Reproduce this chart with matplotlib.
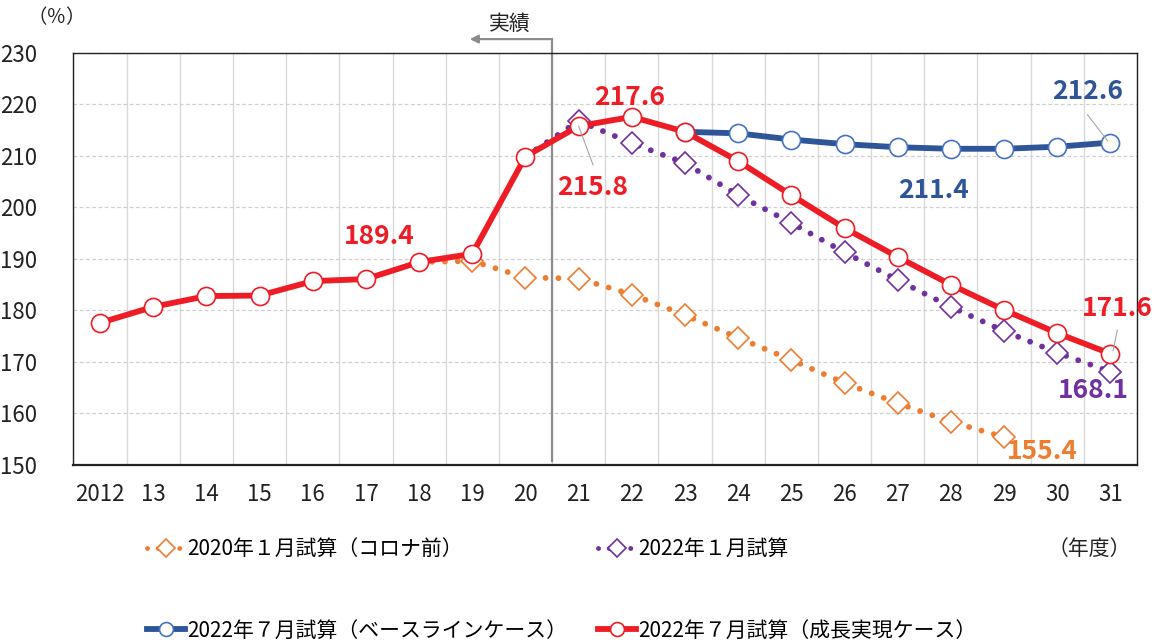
import matplotlib
matplotlib.use("Agg")
import matplotlib.pyplot as plt
from matplotlib.lines import Line2D
import numpy as np

plt.rcParams['font.family'] = ['Noto Sans CJK JP', 'DejaVu Sans']

# ---- data ----
years = ["2012", "13", "14", "15", "16", "17", "18", "19", "20", "21",
         "22", "23", "24", "25", "26", "27", "28", "29", "30", "31"]
growth = [177.6, 180.7, 182.8, 182.9, 185.7, 186.1, 189.4, 191.0, 209.9, 215.8,
          217.6, 214.7, 209.0, 202.4, 196.0, 190.4, 185.0, 180.1, 175.6, 171.6]
baseline_years = ["23", "24", "25", "26", "27", "28", "29", "30", "31"]
baseline = [214.7, 214.4, 213.2, 212.3, 211.7, 211.4, 211.4, 211.8, 212.6]
jan2022_years = ["20", "21", "22", "23", "24", "25", "26", "27", "28", "29", "30", "31"]
jan2022 = [209.9, 216.8, 212.5, 208.6, 202.4, 197.0, 191.3, 185.9, 180.7, 176.0, 171.8, 168.1]
jan2020_years = ["18", "19", "20", "21", "22", "23", "24", "25", "26", "27", "28", "29"]
jan2020 = [189.4, 189.6, 186.4, 186.2, 183.1, 179.1, 174.7, 170.4, 165.9, 162.0, 158.4, 155.4]
yticks = [150, 160, 170, 180, 190, 200, 210, 220, 230]

labels = ["2020年１月試算（コロナ前）", "2022年１月試算",
          "2022年７月試算（ベースラインケース）", "2022年７月試算（成長実現ケース）"]

C_RED = "#EE1C25"
C_BLUE = "#2E5597"
C_BLUE_EDGE = "#4472C4"
C_PURPLE = "#7030A0"
C_ORANGE = "#ED7D31"

idx = {y: i for i, y in enumerate(years)}
x_all = np.arange(len(years))
x_base = [idx[y] for y in baseline_years]
x_j22 = [idx[y] for y in jan2022_years]
x_j20 = [idx[y] for y in jan2020_years]

fig = plt.figure(figsize=(11.59, 6.44), dpi=100)
ax = fig.add_axes([0.0634, 0.278, 0.9176, 0.6397])

dot = (0, (0.01, 2.2))

l_or, = ax.plot(x_j20, jan2020, color=C_ORANGE, lw=4.2, linestyle=dot,
                dash_capstyle='round', marker='D', markersize=11, markevery=list(range(1, len(x_j20))),
                markerfacecolor='white', markeredgecolor=C_ORANGE, markeredgewidth=1.2, zorder=3)
l_pu, = ax.plot(x_j22, jan2022, color=C_PURPLE, lw=4.2, linestyle=dot,
                dash_capstyle='round', marker='D', markersize=11, markevery=list(range(1, len(x_j22))),
                markerfacecolor='white', markeredgecolor=C_PURPLE, markeredgewidth=1.2, zorder=4)
l_bl, = ax.plot(x_base, baseline, color=C_BLUE, lw=4.2, marker='o', markersize=13,
                markerfacecolor='white', markeredgecolor=C_BLUE_EDGE, markeredgewidth=1.2, zorder=5)
l_rd, = ax.plot(x_all, growth, color=C_RED, lw=4.2, marker='o', markersize=13,
                markerfacecolor='white', markeredgecolor=C_RED, markeredgewidth=1.2, zorder=6)

ax.set_xlim(-0.5, len(years) - 0.5)
ax.set_ylim(150, 230)
ax.set_yticks(yticks)
ax.set_xticks(x_all)
ax.set_xticklabels(years)
ax.set_xticks(np.arange(-0.5, len(years), 1.0), minor=True)
ax.tick_params(axis='both', which='both', length=0, labelsize=16, colors='#222222')
ax.tick_params(axis='y', pad=26)
ax.tick_params(axis='x', pad=13)
ax.grid(axis='y', which='major', color='#D0D0D0', linestyle=(0, (3, 2)), lw=0.9)
ax.grid(axis='x', which='minor', color='#D9D9D9', linestyle='-', lw=1.0)
ax.grid(axis='x', which='major', visible=False)
for s in ax.spines.values():
    s.set_color('#222222')
    s.set_linewidth(1.0)
ax.spines['bottom'].set_linewidth(1.6)
ax.set_axisbelow(True)

# actual / forecast divider
xd = idx["20"] + 0.5
ax.plot([xd, xd], [150.8, 232.7], color='#8C8C8C', lw=1.6, clip_on=False, zorder=2)
ax.annotate("", xy=(xd - 1.6, 232.7), xytext=(xd + 0.02, 232.7),
            arrowprops=dict(arrowstyle='-|>', color='#8C8C8C', lw=1.6, mutation_scale=12),
            annotation_clip=False)
ax.text(xd - 0.8, 233.6, "実績", ha='center', va='bottom', fontsize=15, color='#222222')

# value labels
fs = 19
def vlabel(x, y, s, color, **kw):
    ax.text(x, y, s, color=color, fontsize=fs, fontweight='bold', ha='center', va='center',
            zorder=8, **kw)

vlabel(idx["18"] - 0.75, 194.3, "189.4", C_RED)
vlabel(idx["22"] - 0.05, 221.3, "217.6", C_RED)
vlabel(idx["21"] + 0.27, 203.8, "215.8", C_RED)
vlabel(idx["31"] - 0.43, 222.5, "212.6", C_BLUE)
vlabel(idx["28"] - 0.33, 203.3, "211.4", C_BLUE)
vlabel(idx["31"] + 0.13, 180.3, "171.6", C_RED)
vlabel(idx["31"] - 0.32, 164.4, "168.1", C_PURPLE)
vlabel(idx["29"] + 0.72, 152.6, "155.4", C_ORANGE)

# leader lines
lc = '#A6A6A6'
ax.plot([idx["21"] + 0.27, idx["21"]], [208.3, growth[idx["21"]]], color=lc, lw=0.8, zorder=7)
ax.plot([idx["31"] - 0.43, idx["31"] - 0.05], [218.0, 212.9], color=lc, lw=0.8, zorder=7)
ax.plot([idx["31"] + 0.13, idx["31"] + 0.05], [176.2, 172.2], color=lc, lw=0.8, zorder=7)

# axis unit labels
fig.text(0.024, 0.972, "（％）", fontsize=14, ha='left', va='center', color='#222222')
fig.text(0.904, 0.148, "（年度）", fontsize=15, ha='left', va='center', color='#222222')

# legend
def h(line_color, ls, marker, edge, ms, lw):
    return Line2D([0], [0], color=line_color, lw=lw, linestyle=ls, dash_capstyle='round',
                  marker=marker, markersize=ms, markerfacecolor='white',
                  markeredgecolor=edge, markeredgewidth=1.2)

handles = [h(C_ORANGE, dot, 'D', C_ORANGE, 9, 3.5),
           h(C_BLUE, '-', 'o', C_BLUE_EDGE, 10, 4.2),
           h(C_PURPLE, dot, 'D', C_PURPLE, 9, 3.5),
           h(C_RED, '-', 'o', C_RED, 10, 4.2)]
leg_labels = [labels[0], labels[2], labels[1], labels[3]]
fig.legend(handles, leg_labels, loc='upper left', bbox_to_anchor=(0.12, 0.177),
           ncol=2, frameon=False, fontsize=15, handlelength=1.8, handletextpad=0.1,
           columnspacing=1.5, labelspacing=2.85, borderaxespad=0)

fig.savefig("out.png", dpi=100)
